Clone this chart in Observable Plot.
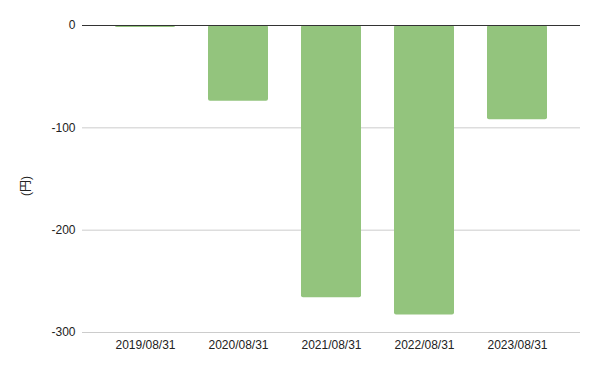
<!DOCTYPE html>
<html>
<head>
<meta charset="utf-8">
<script src="https://cdn.jsdelivr.net/npm/d3@7"></script>
<script src="https://cdn.jsdelivr.net/npm/@observablehq/plot@0.6"></script>
<style>
  html, body { margin: 0; padding: 0; background: #fff; }
  #chart svg { font-family: "Liberation Sans", Arial, "Noto Sans CJK JP", sans-serif; }
</style>
</head>
<body>
<div id="chart"></div>
<script>
const categories = ["2019/08/31", "2020/08/31", "2021/08/31", "2022/08/31", "2023/08/31"];
const values = [-2, -74, -266, -283, -92];
const yTicks = [0, -100, -200, -300];
const yLabel = "(円)";

const data = categories.map((c, i) => ({ date: c, value: values[i] }));

const chart = Plot.plot({
  width: 600,
  height: 371,
  marginTop: 25,
  marginBottom: 39,
  marginLeft: 82,
  marginRight: 20,
  style: { fontSize: "12px", fontFamily: "'Liberation Sans', Arial, 'Noto Sans CJK JP', sans-serif", color: "#222" },
  x: { domain: categories, padding: 0.35, label: null },
  y: { domain: [-300, 0], ticks: yTicks, label: null },
  marks: [
    Plot.ruleY(yTicks.filter(d => d !== 0), { stroke: "#cccccc", strokeWidth: 1, strokeOpacity: 1 }),
    Plot.barY(data, { x: "date", y: "value", fill: "#93c47d", rx: 2 }),
    Plot.ruleY([0], { stroke: "#333333", strokeWidth: 1 }),
    Plot.axisY({ ticks: yTicks, tickSize: 0, tickPadding: 7, tickFormat: d => String(d), label: null, fontSize: 12 }),
    Plot.axisX({ tickSize: 0, tickPadding: 8, label: null, fontSize: 12 }),
    Plot.text([yLabel], { text: d => d, frameAnchor: "left", dx: -56, dy: 7, rotate: -90, fontSize: 12, textAnchor: "middle", fill: "#222" })
  ]
});
document.getElementById("chart").appendChild(chart);
</script>
</body>
</html>
